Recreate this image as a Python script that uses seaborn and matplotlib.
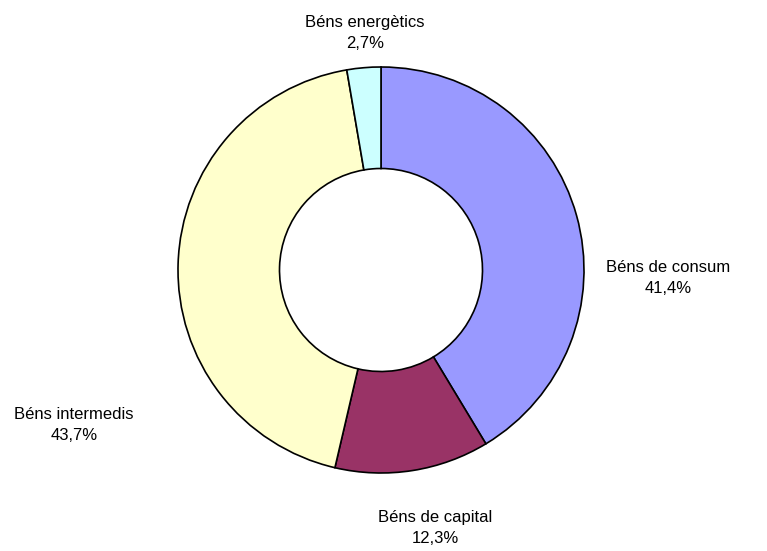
import matplotlib
matplotlib.use("Agg")
import matplotlib.pyplot as plt
import seaborn as sns

categories = ["Béns de consum", "Béns de capital", "Béns intermedis", "Béns energètics"]
shares = [41.4, 12.3, 43.7, 2.7]
colors = ["#9999FF", "#993366", "#FFFFCC", "#CCFFFF"]
# label anchor positions (data units, pie radius = 1)
label_pos = [(1.414, -0.04), (0.266, -1.27), (-1.512, -0.764), (-0.079, 1.167)]

sns.set_theme(style="white")
plt.rcParams["font.family"] = ["Liberation Sans", "DejaVu Sans"]

fig = plt.figure(figsize=(7.67, 5.51), dpi=100)
ax = fig.add_axes([178 / 767, 78 / 551, 406 / 767, 406 / 551])
ax.pie(
    shares,
    colors=colors,
    startangle=90,
    counterclock=False,
    radius=1.0,
    wedgeprops=dict(width=0.5, edgecolor="black", linewidth=1.2),
)
ax.set_xlim(-1, 1)
ax.set_ylim(-1, 1)
ax.set_aspect("equal")
ax.axis("off")

for name, val, (x, y) in zip(categories, shares, label_pos):
    txt = f"{name}\n{val:.1f}%".replace(".", ",")
    ax.text(x, y, txt, ha="center", va="center", fontsize=12,
            linespacing=1.55, color="black", clip_on=False)

fig.savefig("out.png", dpi=100, facecolor="white")
